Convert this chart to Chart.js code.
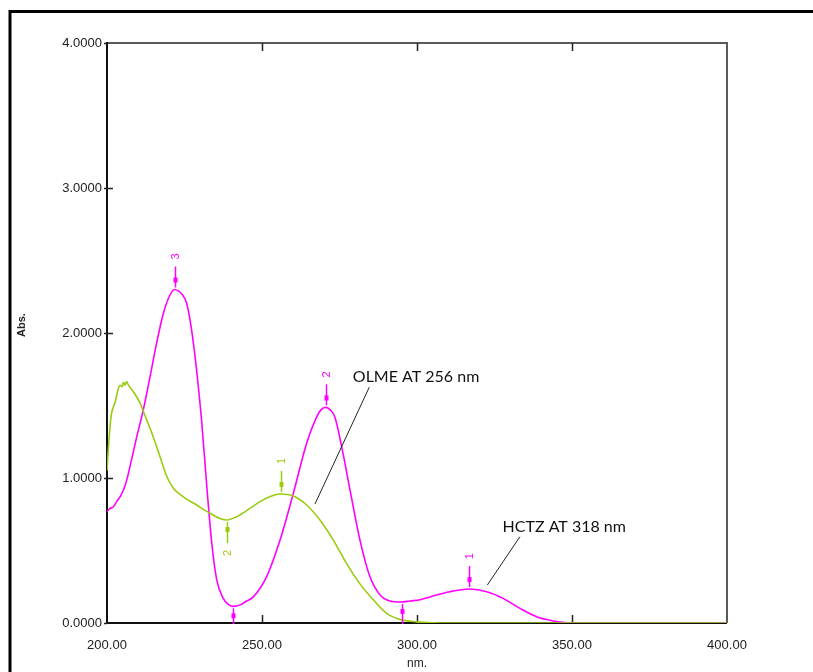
<!DOCTYPE html>
<html><head><meta charset="utf-8">
<script src="https://cdn.jsdelivr.net/npm/chart.js@4/dist/chart.umd.min.js"></script>
<style>html,body{margin:0;padding:0;background:#fff;}canvas{display:block;}</style>
</head><body>
<canvas id="c" width="813" height="672"></canvas>
<script>
// ---- data ----
const olmeNm  = [200.0,200.4,201.0,201.5,202.6,203.7,204.3,204.9,205.3,205.8,206.3,206.9,208.5,210.6,212.8,214.9,217.1,219.3,221.4,224.6,228.9,233.2,236.5,238.6,241.8,246.1,249.4,252.5,255.8,260.1,264.4,268.7,273.0,277.3,281.6,285.9,290.2,294.5,299.9,305.0,320.0,350.0,400.0];
const olmeAbs = [1.05,1.19,1.36,1.45,1.52,1.62,1.64,1.63,1.66,1.64,1.665,1.64,1.595,1.52,1.40,1.285,1.147,1.01,0.93,0.87,0.814,0.757,0.72,0.71,0.733,0.79,0.837,0.87,0.89,0.876,0.814,0.71,0.572,0.41,0.27,0.16,0.067,0.025,0.008,0.002,0,0,0];

const hctzNm  = [200.0,201.0,202.0,203.1,204.2,205.3,206.3,207.4,208.5,209.6,211.7,213.9,216.0,218.2,220.3,221.9,223.0,224.1,225.7,227.3,228.9,230.5,232.2,233.8,235.4,237.5,239.0,240.7,243.0,244.5,247.2,251.5,255.8,260.1,264.4,267.6,269.0,270.6,272.0,273.5,275.7,278.4,281.6,284.8,288.1,291.3,295.0,297.7,301.0,304.2,310.6,316.9,322.5,327.8,333.2,338.6,344.0,347.0,350.0,400.0];
const hctzAbs = [0.768,0.79,0.80,0.837,0.87,0.917,0.98,1.078,1.18,1.285,1.469,1.70,1.93,2.136,2.262,2.30,2.29,2.27,2.205,2.02,1.745,1.40,0.94,0.55,0.297,0.17,0.13,0.115,0.125,0.145,0.18,0.32,0.57,0.894,1.24,1.42,1.47,1.487,1.47,1.42,1.216,0.917,0.572,0.32,0.193,0.152,0.145,0.152,0.16,0.18,0.216,0.234,0.216,0.17,0.101,0.043,0.014,0.004,0,0];

const xTicks = [200, 250, 300, 350, 400];
const yTicks = [0, 1, 2, 3, 4];

// peak / valley markers
const hctzMarkNm    = [316.9, 270.6, 222.0, 240.8, 295.0];
const hctzMarkAbs   = [0.234, 1.487, 2.30, 0.115, 0.145];
const hctzMarkDir   = ['up', 'up', 'up', 'down', 'down'];
const hctzMarkLabel = ['1', '2', '3', '', ''];
const olmeMarkNm    = [256.0, 238.6];
const olmeMarkAbs   = [0.89, 0.71];
const olmeMarkDir   = ['up', 'down'];
const olmeMarkLabel = ['1', '2'];

// annotation texts (anchor in data units) and leader lines
const noteText  = ['OLME AT 256 nm', 'HCTZ AT 318 nm'];
const noteNm    = [279.3, 327.6];
const noteAbs   = [1.70, 0.664];
const leadFromNm  = [284.6, 333.2];
const leadFromAbs = [1.626, 0.595];
const leadToNm    = [267.1, 322.7];
const leadToAbs   = [0.821, 0.262];

const HCTZ_COLOR = '#FF00FF';
const OLME_COLOR = '#99CC11';

const toPts = (xs, ys) => xs.map((x, i) => ({x: x, y: ys[i]}));

const decor = {
  id: 'decor',
  beforeDatasetsDraw(chart) {
    const ctx = chart.ctx, a = chart.chartArea, xs = chart.scales.x, ys = chart.scales.y;
    ctx.save();
    // plot frame
    ctx.lineWidth = 2;
    ctx.strokeStyle = '#5a5a5a';
    ctx.beginPath();
    ctx.moveTo(a.left, a.top); ctx.lineTo(a.right, a.top); ctx.lineTo(a.right, a.bottom);
    ctx.stroke();
    ctx.strokeStyle = '#111';
    ctx.beginPath();
    ctx.moveTo(a.left, a.top - 1); ctx.lineTo(a.left, a.bottom); ctx.lineTo(a.right, a.bottom);
    ctx.stroke();
    // inward ticks
    ctx.lineWidth = 1.5;
    ctx.strokeStyle = '#222';
    xTicks.slice(1, -1).forEach(v => {
      const px = Math.round(xs.getPixelForValue(v)) + 0.5;
      ctx.beginPath(); ctx.moveTo(px, a.top); ctx.lineTo(px, a.top + 8); ctx.stroke();
      ctx.beginPath(); ctx.moveTo(px, a.bottom); ctx.lineTo(px, a.bottom - 8); ctx.stroke();
    });
    yTicks.forEach(v => {
      const py = Math.round(ys.getPixelForValue(v)) + 0.5;
      ctx.beginPath(); ctx.moveTo(a.left - 3, py); ctx.lineTo(a.left + (v > 0 && v < 4 ? 6 : 0), py); ctx.stroke();
    });
    ctx.restore();
  },
  afterDatasetsDraw(chart) {
    const ctx = chart.ctx, a = chart.chartArea, xs = chart.scales.x, ys = chart.scales.y;
    ctx.save();
    ctx.beginPath(); ctx.rect(a.left, a.top, a.right - a.left, a.bottom - a.top + 1); ctx.clip();
    const drawMarks = (nm, ab, dir, lab, color) => {
      ctx.strokeStyle = color; ctx.fillStyle = color; ctx.lineWidth = 1.5;
      nm.forEach((v, i) => {
        const px = Math.round(xs.getPixelForValue(v)) + 0.5;
        const py = ys.getPixelForValue(ab[i]);
        const s = dir[i] === 'up' ? -1 : 1;
        ctx.beginPath(); ctx.moveTo(px, py + s * 2); ctx.lineTo(px, py + s * 23); ctx.stroke();
        const y1 = py + s * 7, y2 = py + s * 12;
        ctx.fillRect(px - 2, Math.min(y1, y2), 4, 5);
        if (lab[i]) {
          ctx.save();
          ctx.translate(px, py + s * 33);
          ctx.rotate(-Math.PI / 2);
          ctx.font = '11px "Liberation Sans", Arial, sans-serif';
          ctx.textAlign = 'center'; ctx.textBaseline = 'middle';
          ctx.fillText(lab[i], 0, 0);
          ctx.restore();
        }
      });
    };
    drawMarks(olmeMarkNm, olmeMarkAbs, olmeMarkDir, olmeMarkLabel, OLME_COLOR);
    drawMarks(hctzMarkNm, hctzMarkAbs, hctzMarkDir, hctzMarkLabel, HCTZ_COLOR);
    // leader lines
    ctx.strokeStyle = '#222'; ctx.lineWidth = 1;
    leadFromNm.forEach((v, i) => {
      ctx.beginPath();
      ctx.moveTo(xs.getPixelForValue(v), ys.getPixelForValue(leadFromAbs[i]));
      ctx.lineTo(xs.getPixelForValue(leadToNm[i]), ys.getPixelForValue(leadToAbs[i]));
      ctx.stroke();
    });
    ctx.fillStyle = '#111';
    ctx.font = '16px Lato, "Liberation Sans", sans-serif';
    ctx.textAlign = 'left'; ctx.textBaseline = 'middle';
    noteText.forEach((t, i) => {
      ctx.fillText(t, xs.getPixelForValue(noteNm[i]), ys.getPixelForValue(noteAbs[i]));
    });
    ctx.restore();

    // axis titles
    ctx.save();
    ctx.fillStyle = '#222';
    ctx.font = 'bold 11px "Liberation Sans", Arial, sans-serif';
    ctx.textAlign = 'center'; ctx.textBaseline = 'middle';
    ctx.translate(22, 325); ctx.rotate(-Math.PI / 2); ctx.fillText('Abs.', 0, 0);
    ctx.restore();
    ctx.save();
    ctx.fillStyle = '#222';
    ctx.font = '12px "Liberation Sans", Arial, sans-serif';
    ctx.textAlign = 'center'; ctx.textBaseline = 'middle';
    ctx.fillText('nm.', (a.left + a.right) / 2, 664);
    // outer figure border
    ctx.strokeStyle = '#000'; ctx.lineWidth = 3;
    ctx.beginPath(); ctx.moveTo(10, 672); ctx.lineTo(10, 11.5); ctx.lineTo(813, 11.5); ctx.stroke();
    ctx.restore();
  }
};

new Chart(document.getElementById('c'), {
  type: 'line',
  data: {
    datasets: [
      {label: 'OLME', data: toPts(olmeNm, olmeAbs), borderColor: OLME_COLOR, borderWidth: 1.6,
       pointRadius: 0, fill: false, cubicInterpolationMode: 'monotone'},
      {label: 'HCTZ', data: toPts(hctzNm, hctzAbs), borderColor: HCTZ_COLOR, borderWidth: 1.6,
       pointRadius: 0, fill: false, cubicInterpolationMode: 'monotone'}
    ]
  },
  options: {
    responsive: false, animation: false, devicePixelRatio: 1,
    layout: {padding: {left: 0, top: 43, right: 86, bottom: 0}},
    plugins: {legend: {display: false}, tooltip: {enabled: false}},
    scales: {
      x: {
        type: 'linear', min: 200, max: 400,
        afterBuildTicks: s => { s.ticks = xTicks.map(v => ({value: v})); },
        afterFit: s => { s.height = 49; },
        grid: {display: false, drawTicks: false}, border: {display: false},
        ticks: {autoSkip: false, maxRotation: 0, padding: 15, color: '#222',
                font: {family: '"Liberation Sans", Arial, sans-serif', size: 13},
                callback: v => Number(v).toFixed(2)}
      },
      y: {
        type: 'linear', min: 0, max: 4,
        afterBuildTicks: s => { s.ticks = yTicks.map(v => ({value: v})); },
        afterFit: s => { s.width = 107; },
        grid: {display: false, drawTicks: false}, border: {display: false},
        ticks: {autoSkip: false, padding: 5, color: '#222',
                font: {family: '"Liberation Sans", Arial, sans-serif', size: 13},
                callback: v => Number(v).toFixed(4)}
      }
    }
  },
  plugins: [decor]
});
</script>
</body></html>
